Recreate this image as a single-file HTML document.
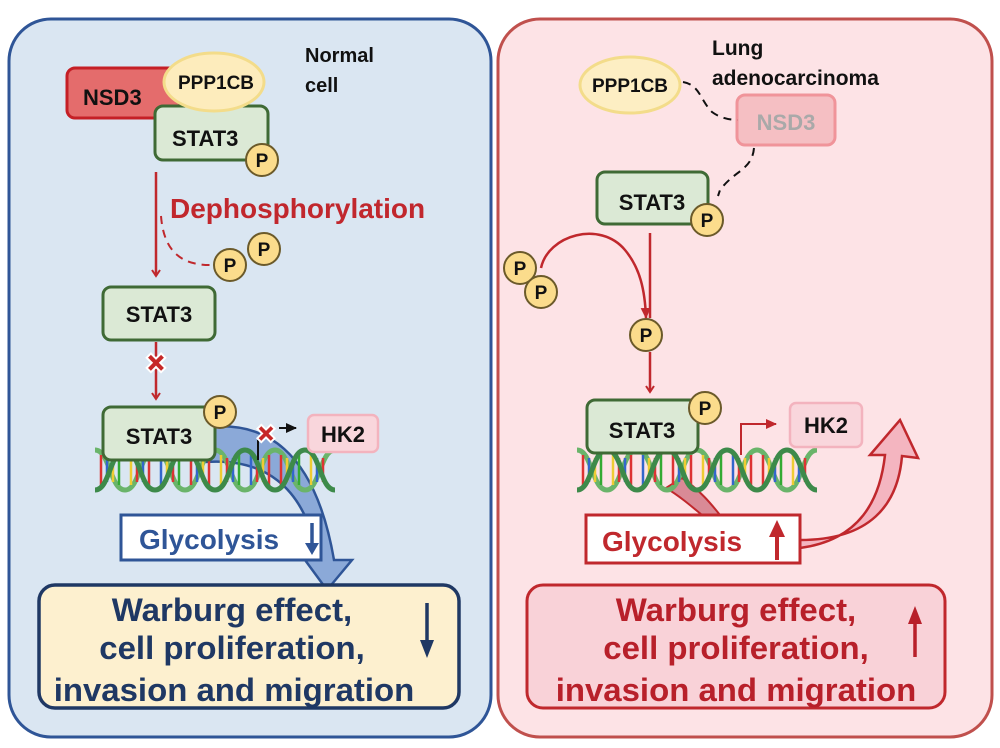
<!DOCTYPE html>
<html><head><meta charset="utf-8"><style>
html,body{margin:0;padding:0;background:#fff;}
svg{display:block;font-family:"Liberation Sans",Arial,sans-serif;font-weight:bold;}
</style></head><body>
<svg width="1000" height="748" viewBox="0 0 1000 748" xmlns="http://www.w3.org/2000/svg">
<defs>
<marker id="ar" markerWidth="10" markerHeight="10" refX="7" refY="5" orient="auto" markerUnits="userSpaceOnUse"><path d="M1,1 L7,5 L1,9" fill="none" stroke="#c0282d" stroke-width="2"/></marker>
<marker id="arf" markerWidth="12" markerHeight="12" refX="10" refY="6" orient="auto" markerUnits="userSpaceOnUse"><path d="M0,1 L11,6 L0,11 z" fill="#c0282d"/></marker>
<marker id="ark" markerWidth="12" markerHeight="12" refX="10" refY="6" orient="auto" markerUnits="userSpaceOnUse"><path d="M0,1 L11,6 L0,11 z" fill="#111"/></marker>
<g id="dna">
<path d="M0,0 c15,0 15,40 30,40 c15,0 15,-40 30,-40 c15,0 15,40 30,40 c15,0 15,-40 30,-40 c15,0 15,40 30,40 c15,0 15,-40 30,-40 c15,0 15,40 30,40 c15,0 15,-40 30,-40" fill="none" stroke="#6ab46a" stroke-width="5"/>
<g stroke-width="2.5">
<line x1="6" y1="5" x2="6" y2="35" stroke="#d33"/><line x1="12" y1="8" x2="12" y2="32" stroke="#36c"/><line x1="18" y1="8" x2="18" y2="32" stroke="#ec3"/><line x1="24" y1="5" x2="24" y2="35" stroke="#3a3"/>
<line x1="36" y1="5" x2="36" y2="35" stroke="#ec3"/><line x1="42" y1="8" x2="42" y2="32" stroke="#d33"/><line x1="48" y1="8" x2="48" y2="32" stroke="#36c"/><line x1="54" y1="5" x2="54" y2="35" stroke="#d33"/>
<line x1="66" y1="5" x2="66" y2="35" stroke="#36c"/><line x1="72" y1="8" x2="72" y2="32" stroke="#ec3"/><line x1="78" y1="8" x2="78" y2="32" stroke="#d33"/><line x1="84" y1="5" x2="84" y2="35" stroke="#3a3"/>
<line x1="96" y1="5" x2="96" y2="35" stroke="#d33"/><line x1="102" y1="8" x2="102" y2="32" stroke="#36c"/><line x1="108" y1="8" x2="108" y2="32" stroke="#ec3"/><line x1="114" y1="5" x2="114" y2="35" stroke="#d33"/>
<line x1="126" y1="5" x2="126" y2="35" stroke="#ec3"/><line x1="132" y1="8" x2="132" y2="32" stroke="#d33"/><line x1="138" y1="8" x2="138" y2="32" stroke="#36c"/><line x1="144" y1="5" x2="144" y2="35" stroke="#3a3"/>
<line x1="156" y1="5" x2="156" y2="35" stroke="#36c"/><line x1="162" y1="8" x2="162" y2="32" stroke="#d33"/><line x1="168" y1="8" x2="168" y2="32" stroke="#ec3"/><line x1="174" y1="5" x2="174" y2="35" stroke="#d33"/>
<line x1="186" y1="5" x2="186" y2="35" stroke="#d33"/><line x1="192" y1="8" x2="192" y2="32" stroke="#ec3"/><line x1="198" y1="8" x2="198" y2="32" stroke="#36c"/><line x1="204" y1="5" x2="204" y2="35" stroke="#3a3"/>
<line x1="216" y1="5" x2="216" y2="35" stroke="#ec3"/><line x1="222" y1="8" x2="222" y2="32" stroke="#36c"/><line x1="228" y1="8" x2="228" y2="32" stroke="#d33"/>
</g>
<path d="M0,40 c15,0 15,-40 30,-40 c15,0 15,40 30,40 c15,0 15,-40 30,-40 c15,0 15,40 30,40 c15,0 15,-40 30,-40 c15,0 15,40 30,40 c15,0 15,-40 30,-40 c15,0 15,40 30,40" fill="none" stroke="#3d8a4a" stroke-width="5"/>
</g>
<g id="P"><circle r="16" fill="#fbdc8c" stroke="#6b5a2a" stroke-width="2"/><text y="7" text-anchor="middle" font-size="19" fill="#111">P</text></g>
</defs>

<!-- panels -->
<rect x="9" y="19" width="482" height="718" rx="42" fill="#dae6f2" stroke="#2f5597" stroke-width="3"/>
<rect x="498" y="19" width="494" height="718" rx="42" fill="#fde3e6" stroke="#c0504d" stroke-width="3"/>

<!-- LEFT -->
<rect x="67" y="68" width="113" height="50" rx="8" fill="#e46c6c" stroke="#c51f26" stroke-width="3"/>
<text x="83" y="105" font-size="22" fill="#111">NSD3</text>
<rect x="155" y="106" width="113" height="54" rx="8" fill="#dbe9d5" stroke="#3f6a35" stroke-width="3"/>
<text x="172" y="146" font-size="22" fill="#111">STAT3</text>
<ellipse cx="214" cy="82" rx="50" ry="29" fill="#fdecbc" stroke="#f3dc8a" stroke-width="3"/>
<text x="216" y="89" font-size="19" fill="#111" text-anchor="middle">PPP1CB</text>
<use href="#P" x="262" y="160"/>
<text x="305" y="62" font-size="20" fill="#111">Normal</text>
<text x="305" y="92" font-size="20" fill="#111">cell</text>

<line x1="156" y1="172" x2="156" y2="276" stroke="#c0282d" stroke-width="2.5" marker-end="url(#ar)"/>
<text x="170" y="218" font-size="28" fill="#c1272d">Dephosphorylation</text>
<path d="M161,216 C164,255 185,266 214,265" fill="none" stroke="#c0282d" stroke-width="2" stroke-dasharray="8,6"/>
<use href="#P" x="230" y="265"/>
<use href="#P" x="264" y="249"/>

<rect x="103" y="287" width="112" height="53" rx="8" fill="#dbe9d5" stroke="#3f6a35" stroke-width="3"/>
<text x="159" y="322" font-size="22" fill="#111" text-anchor="middle">STAT3</text>
<line x1="156" y1="342" x2="156" y2="399" stroke="#c0282d" stroke-width="2.5" marker-end="url(#ar)"/>
<text x="156" y="373" font-size="28" fill="#c62828" text-anchor="middle" stroke="#fff" stroke-width="1">✖</text>

<!-- blue curved arrow -->
<path d="M200,428 C265,418 315,450 334,560 L352,560 L327,590 L305,560 L318,560 C305,482 260,458 205,462 Z" fill="#7d9ed3" fill-opacity="0.85" stroke="#2f5597" stroke-width="2.5"/>
<use href="#dna" x="95" y="450"/>
<rect x="103" y="407" width="112" height="53" rx="8" fill="#dbe9d5" stroke="#3f6a35" stroke-width="3"/>
<text x="159" y="444" font-size="22" fill="#111" text-anchor="middle">STAT3</text>
<use href="#P" x="220" y="412"/>
<line x1="258" y1="440" x2="258" y2="460" stroke="#111" stroke-width="2"/>
<text x="266" y="443" font-size="26" fill="#c62828" text-anchor="middle" stroke="#fff" stroke-width="1">✖</text>
<line x1="279" y1="428" x2="296" y2="428" stroke="#111" stroke-width="2" marker-end="url(#ark)"/>
<rect x="308" y="415" width="70" height="37" rx="6" fill="#f9d6dc" stroke="#f3b3be" stroke-width="2.5"/>
<text x="343" y="442" font-size="22" fill="#111" text-anchor="middle">HK2</text>

<rect x="121" y="515" width="200" height="45" fill="#fff" stroke="#2f5597" stroke-width="3"/>
<text x="139" y="549" font-size="28" fill="#2f5597">Glycolysis</text>
<line x1="312" y1="523" x2="312" y2="548" stroke="#2f5597" stroke-width="3.5"/>
<path d="M305,543 L312,555 L319,543 Z" fill="#2f5597"/>

<rect x="39" y="585" width="420" height="123" rx="16" fill="#fdf0cf" stroke="#1f3864" stroke-width="3.5"/>
<g font-size="32" fill="#1f3864" text-anchor="middle">
<text transform="translate(232,621) scale(1.03,1)">Warburg effect,</text>
<text transform="translate(232,659) scale(1.03,1)">cell proliferation,</text>
<text transform="translate(234,701) scale(1.03,1)">invasion and migration</text>
</g>
<line x1="427" y1="603" x2="427" y2="645" stroke="#1f3864" stroke-width="3.5"/>
<path d="M420,640 L427,658 L434,640 Z" fill="#1f3864"/>

<!-- RIGHT -->
<ellipse cx="630" cy="85" rx="50" ry="28" fill="#fdeec3" stroke="#f3dc8a" stroke-width="3"/>
<text x="630" y="92" font-size="19" fill="#111" text-anchor="middle">PPP1CB</text>
<text x="712" y="55" font-size="21" fill="#111">Lung</text>
<text x="712" y="85" font-size="21" fill="#111">adenocarcinoma</text>
<path d="M683,82 C700,85 700,100 712,112 C720,118 730,120 738,120" fill="none" stroke="#111" stroke-width="2" stroke-dasharray="8,6"/>
<rect x="737" y="95" width="98" height="50" rx="8" fill="#f5bcc0" stroke="#ef8c92" stroke-width="3" opacity="0.9"/>
<text x="786" y="130" font-size="22" fill="#a9a9a9" text-anchor="middle">NSD3</text>
<path d="M754,148 C752,170 735,170 720,190 L718,196" fill="none" stroke="#111" stroke-width="2" stroke-dasharray="8,6"/>
<rect x="597" y="172" width="111" height="52" rx="8" fill="#dbe9d5" stroke="#3f6a35" stroke-width="3"/>
<text x="652" y="210" font-size="22" fill="#111" text-anchor="middle">STAT3</text>
<use href="#P" x="707" y="220"/>
<line x1="650" y1="233" x2="650" y2="318" stroke="#c0282d" stroke-width="2.5"/>
<path d="M541,268 C548,235 600,220 625,250 C640,268 645,290 646,318" fill="none" stroke="#c0282d" stroke-width="2.5" marker-end="url(#arf)"/>
<use href="#P" x="520" y="268"/>
<use href="#P" x="541" y="292"/>
<use href="#P" x="646" y="335"/>
<line x1="650" y1="352" x2="650" y2="392" stroke="#c0282d" stroke-width="2.5" marker-end="url(#ar)"/>

<!-- pink arrows -->
<path d="M682,478 C700,490 712,505 720,515 L702,515 C690,505 678,495 666,488 Z" fill="#d98a96" stroke="#c0282d" stroke-width="2"/>
<path d="M800,548 C860,540 880,500 885,455 L870,455 L900,420 L918,458 L902,456 C898,505 870,540 800,540 Z" fill="#f4b5c0" stroke="#c0282d" stroke-width="2.5"/>
<use href="#dna" x="577" y="450"/>
<rect x="587" y="400" width="111" height="53" rx="8" fill="#dbe9d5" stroke="#3f6a35" stroke-width="3"/>
<text x="642" y="438" font-size="22" fill="#111" text-anchor="middle">STAT3</text>
<use href="#P" x="705" y="408"/>
<path d="M741,455 L741,424 L776,424" fill="none" stroke="#c0282d" stroke-width="2" marker-end="url(#arf)"/>
<rect x="790" y="403" width="72" height="44" rx="6" fill="#f9d6dc" stroke="#f3b3be" stroke-width="2.5"/>
<text x="826" y="433" font-size="22" fill="#111" text-anchor="middle">HK2</text>

<rect x="586" y="515" width="214" height="48" fill="#fff" stroke="#c0282d" stroke-width="3"/>
<text x="602" y="551" font-size="28" fill="#c0282d">Glycolysis</text>
<line x1="777" y1="532" x2="777" y2="560" stroke="#c0282d" stroke-width="4"/>
<path d="M769,537 L777,520 L785,537 Z" fill="#c0282d"/>

<rect x="527" y="585" width="418" height="123" rx="16" fill="#f9d2d8" stroke="#c0282d" stroke-width="3"/>
<g font-size="32" fill="#b8202a" text-anchor="middle">
<text transform="translate(736,621) scale(1.03,1)">Warburg effect,</text>
<text transform="translate(736,659) scale(1.03,1)">cell proliferation,</text>
<text transform="translate(736,701) scale(1.03,1)">invasion and migration</text>
</g>
<line x1="915" y1="620" x2="915" y2="657" stroke="#b8202a" stroke-width="3.5"/>
<path d="M908,624 L915,606 L922,624 Z" fill="#b8202a"/>
</svg>
</body></html>
